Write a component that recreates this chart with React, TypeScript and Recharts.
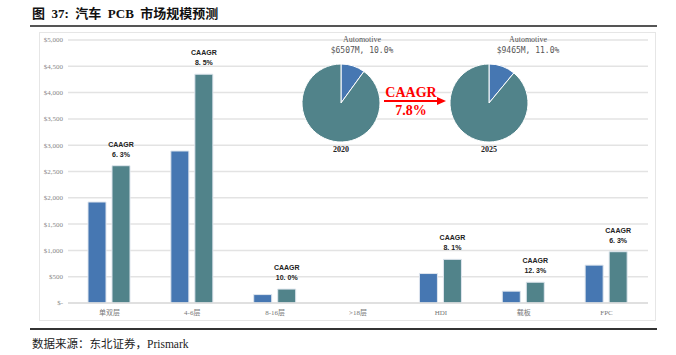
import React from 'react';
import {
  BarChart,
  Bar,
  XAxis,
  YAxis,
  CartesianGrid,
  LabelList,
  PieChart,
  Pie,
  Cell,
} from 'recharts';

// bar data (US$ M)
const categories = ['单双层', '4-6层', '8-16层', '>18层', 'HDI', '载板', 'FPC'];
const value2020 = [1920, 2890, 160, 0, 560, 225, 720];
const value2025 = [2610, 4350, 265, 0, 830, 395, 975];
const caagr = ['6. 3%', '8. 5%', '10. 0%', '', '8. 1%', '12. 3%', '6. 3%'];
const yTicks = [0, 500, 1000, 1500, 2000, 2500, 3000, 3500, 4000, 4500, 5000];

// pie data (share of PCB market)
const pieNames = ['Automotive', 'Other'];
const share2020 = [10.0, 90.0];
const share2025 = [11.0, 89.0];
const pieYears = ['2020', '2025'];
const pieLabels = ['$6507M, 10.0%', '$9465M, 11.0%'];

const BLUE = '#4677b2';
const TEAL = '#51838a';

const data = categories.map((name, i) => ({
  name,
  y2020: value2020[i],
  y2025: value2025[i],
  caagr: caagr[i],
}));

const pie2020 = pieNames.map((name, i) => ({ name, value: share2020[i] }));
const pie2025 = pieNames.map((name, i) => ({ name, value: share2025[i] }));

const fmtTick = (v: number) => (v === 0 ? '$-' : `$${v.toLocaleString('en-US')}`);

const CaagrLabel = (props: any) => {
  const { x, y, width, value } = props;
  if (!value) return null;
  const cx = x + width / 2;
  return (
    <g
      fontFamily="'Liberation Sans Narrow', 'Arial Narrow', 'Liberation Sans', sans-serif"
      fontWeight="bold"
      fontSize={7}
      fill="#222"
      textAnchor="middle"
    >
      <text x={cx} y={y - 19}>CAAGR</text>
      <text x={cx} y={y - 9}>{value}</text>
    </g>
  );
};

const abs = (left: number, top: number): React.CSSProperties => ({
  position: 'absolute',
  left,
  top,
});

export default function App() {
  const serif = "'Liberation Serif', 'DejaVu Serif', 'Noto Sans CJK SC', serif";
  return (
    <div
      style={{
        position: 'absolute',
        left: 0,
        top: 0,
        width: 676,
        height: 355,
        background: '#fff',
        overflow: 'hidden',
        fontFamily: serif,
      }}
    >
      <div style={{ ...abs(32, 3), fontSize: 13, fontWeight: 'bold', color: '#111', whiteSpace: 'pre' }}>
        图  37:  汽车  PCB  市场规模预测
      </div>
      <div style={{ ...abs(30, 25), width: 627, height: 2, background: '#555' }} />
      <div
        style={{ ...abs(39, 32), width: 617, height: 289, border: '1px solid #e6e6e6', boxSizing: 'border-box' }}
      />

      <div style={abs(0, 0)}>
        <BarChart
          width={676}
          height={355}
          data={data}
          margin={{ top: 40, right: 28, bottom: 22, left: 8 }}
          barSize={18}
          barGap={6}
        >
          <CartesianGrid vertical={false} stroke="#e3e3e3" strokeWidth={1.5} />
          <XAxis
            dataKey="name"
            height={30}
            axisLine={{ stroke: '#dcdcdc', strokeWidth: 1.5 }}
            tickLine={false}
            tickSize={0}
            tickMargin={7}
            interval={0}
            tick={{ fill: '#777', fontSize: 7, fontFamily: serif }}
          />
          <YAxis
            width={60}
            domain={[0, 5000]}
            ticks={yTicks}
            tickFormatter={fmtTick}
            axisLine={false}
            tickLine={false}
            tickSize={0}
            tickMargin={5}
            tick={{ fill: '#888', fontSize: 7, fontFamily: serif }}
          />
          <Bar dataKey="y2020" fill={BLUE} stroke="#dfe6ee" strokeWidth={1} isAnimationActive={false} />
          <Bar dataKey="y2025" fill={TEAL} stroke="#dfe6ee" strokeWidth={1} isAnimationActive={false}>
            <LabelList dataKey="caagr" content={<CaagrLabel />} />
          </Bar>
        </BarChart>
      </div>

      <div style={abs(0, 0)}>
        <PieChart width={676} height={355} margin={{ top: 0, right: 0, bottom: 0, left: 0 }}>
          <Pie
            data={pie2020}
            dataKey="value"
            cx={341}
            cy={103}
            outerRadius={39}
            startAngle={90}
            endAngle={-270}
            stroke="#fff"
            strokeWidth={1}
            isAnimationActive={false}
          >
            {pie2020.map((d, i) => (
              <Cell key={d.name} fill={i === 0 ? BLUE : TEAL} />
            ))}
          </Pie>
          <Pie
            data={pie2025}
            dataKey="value"
            cx={489}
            cy={103}
            outerRadius={39}
            startAngle={90}
            endAngle={-270}
            stroke="#fff"
            strokeWidth={1}
            isAnimationActive={false}
          >
            {pie2025.map((d, i) => (
              <Cell key={d.name} fill={i === 0 ? BLUE : TEAL} />
            ))}
          </Pie>
        </PieChart>
      </div>

      {[362, 528].map((cx, i) => (
        <div
          key={cx}
          style={{ ...abs(cx - 60, 34), width: 120, textAlign: 'center', color: '#555', fontSize: 8, lineHeight: '11px' }}
        >
          <div>{pieNames[0]}</div>
          <div style={{ fontFamily: "'DejaVu Sans Mono', 'Liberation Mono', monospace", fontSize: 8 }}>
            {pieLabels[i]}
          </div>
        </div>
      ))}
      {[341, 489].map((cx, i) => (
        <div
          key={cx}
          style={{ ...abs(cx - 30, 145), width: 60, textAlign: 'center', color: '#222', fontSize: 8, fontWeight: 'bold' }}
        >
          {pieYears[i]}
        </div>
      ))}

      <div
        style={{ ...abs(376, 85), width: 70, textAlign: 'center', color: '#ff0000', fontSize: 14, fontWeight: 'bold', lineHeight: '15px' }}
      >
        CAAGR
      </div>
      <div
        style={{ ...abs(376, 103), width: 70, textAlign: 'center', color: '#ff0000', fontSize: 14, fontWeight: 'bold', lineHeight: '15px' }}
      >
        7.8%
      </div>
      <svg style={abs(380, 95)} width={70} height={12}>
        <line x1={4} y1={6} x2={58} y2={6} stroke="#ff0000" strokeWidth={2} />
        <polygon points="57,2 66,6 57,10" fill="#ff0000" />
      </svg>

      <div style={{ ...abs(30, 328), width: 627, height: 1.5, background: '#333' }} />
      <div style={{ ...abs(32, 335), fontSize: 11.5, color: '#222', whiteSpace: 'nowrap' }}>
        数据来源：东北证券，Prismark
      </div>
    </div>
  );
}
